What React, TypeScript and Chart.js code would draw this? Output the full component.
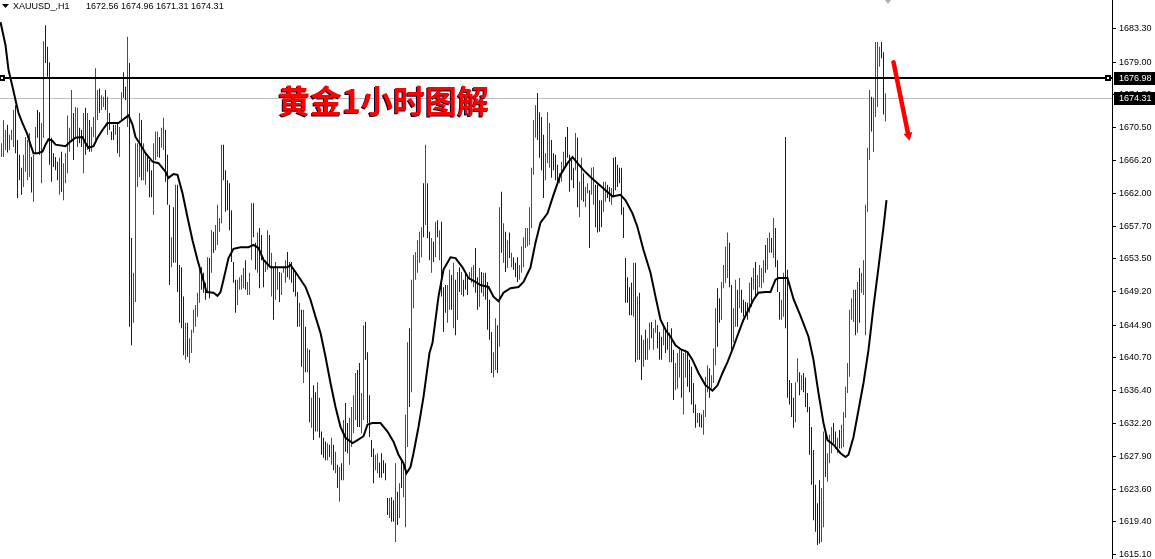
import React, { useEffect, useRef } from "react";
import { Chart, registerables } from "chart.js";

Chart.register(...registerables);

// ---------- data ----------
const symbolLabel = "XAUUSD_,H1";
const lastOHLC = [1672.56, 1674.96, 1671.31, 1674.31];
const titleText = "黄金1小时图解";

// price-axis tick labels
const yTicks = [
  1683.3, 1679.0, 1674.8, 1670.5, 1666.2, 1662.0, 1657.7, 1653.5, 1649.2,
  1644.9, 1640.7, 1636.4, 1632.2, 1627.9, 1623.6, 1619.4, 1615.1,
];
const yMin = 1614.58;
const yMax = 1687.06;
const xMin = -0.75;
const xMax = 555.25;

const levelPrice = 1676.98; // black horizontal line
const bidPrice = 1674.31; // grey bid line

const arrowFrom = { x: 446, y: 1679.0 };
const arrowTo = { x: 454, y: 1668.8 };

// bar highs
const barHigh = [
  // 0-73
  1668.5,1671.5,1670.2,1670.9,1669.6,1670.2,1672.8,1673.4,1668.9,1667.0,
  1665.3,1667.0,1669.3,1668.9,1669.8,1666.7,1667.0,1670.6,1672.8,1672.5,
  1671.1,1681.7,1683.8,1681.0,1679.0,1669.2,1667.2,1666.7,1666.1,1666.6,
  1667.4,1665.9,1667.2,1672.1,1670.5,1675.4,1672.4,1673.2,1673.1,1670.5,
  1670.2,1672.4,1673.1,1672.4,1671.5,1670.6,1671.9,1678.2,1675.4,1675.6,
  1674.7,1674.5,1675.4,1674.5,1672.4,1670.0,1670.9,1670.9,1671.1,1670.6,
  1675.1,1677.7,1675.8,1682.3,1678.9,1656.2,1651.7,1668.5,1668.5,1672.4,
  1671.5,1668.5,1667.2,1666.7,
  // 74-138
  1666.3,1665.0,1668.5,1670.0,1670.0,1669.3,1670.5,1671.8,1670.2,1667.0,
  1660.5,1656.3,1660.2,1663.1,1663.1,1652.7,1652.4,1648.6,1645.2,1645.2,
  1643.2,1644.3,1646.9,1647.5,1649.1,1652.3,1652.4,1651.7,1650.4,1653.7,
  1653.6,1657.2,1657.0,1657.9,1660.5,1658.8,1668.3,1668.3,1665.0,1663.7,
  1663.3,1659.8,1653.1,1650.8,1650.8,1651.1,1651.4,1652.3,1653.3,1650.5,
  1651.7,1660.7,1660.7,1655.6,1656.9,1657.5,1656.6,1653.7,1653.3,1657.2,
  1656.6,1654.3,1652.4,1653.1,1652.4,
  // 139-213
  1651.8,1651.7,1652.4,1653.3,1654.4,1653.1,1653.1,1652.1,1651.7,1649.2,
  1647.8,1646.9,1646.9,1644.7,1641.9,1641.7,1635.5,1637.1,1636.2,1637.5,
  1635.5,1631.1,1630.3,1629.8,1629.6,1629.4,1630.3,1629.4,1628.5,1626.8,
  1626.5,1627.0,1632.6,1634.8,1632.2,1632.9,1634.3,1635.8,1638.7,1639.1,
  1640.0,1636.1,1644.9,1645.3,1641.4,1635.8,1630.0,1628.9,1628.1,1628.3,
  1627.1,1628.3,1627.4,1627.0,1622.5,1622.5,1622.6,1622.2,1627.0,1623.3,
  1624.4,1627.4,1626.8,1633.3,1642.7,1644.5,1650.8,1654.0,1654.4,1655.9,
  1657.0,1657.6,1663.3,1668.3,1663.3,
  // 214-308
  1657.0,1656.2,1655.7,1658.3,1658.5,1657.2,1658.3,1649.8,1650.1,1650.1,
  1652.1,1651.4,1653.0,1650.8,1651.8,1652.4,1651.8,1650.8,1651.8,1651.1,
  1651.8,1652.4,1652.7,1654.9,1651.1,1652.3,1651.8,1651.7,1651.7,1650.5,
  1648.2,1644.0,1641.4,1645.8,1644.9,1660.2,1662.2,1658.1,1657.0,1655.9,
  1656.9,1654.3,1653.7,1653.0,1653.7,1652.7,1655.1,1656.3,1657.5,1657.5,
  1660.2,1665.3,1671.5,1673.4,1675.0,1672.5,1671.9,1669.6,1667.2,1672.5,
  1671.1,1668.9,1667.2,1667.0,1665.7,1664.6,1666.1,1667.4,1669.3,1670.6,
  1667.0,1666.3,1665.3,1669.8,1669.2,1663.5,1666.6,1664.6,1662.8,1663.3,
  1662.4,1665.3,1665.4,1663.1,1663.1,1661.1,1661.1,1663.5,1663.5,1663.1,
  1662.8,1662.7,1666.6,1666.7,1665.7,
  // 309-398
  1665.3,1665.3,1660.2,1653.6,1651.1,1649.8,1650.4,1653.0,1653.0,1648.6,
  1649.1,1643.6,1643.0,1644.3,1643.2,1645.2,1645.3,1644.5,1645.6,1644.9,
  1644.0,1643.4,1644.7,1644.3,1645.3,1643.9,1644.5,1641.7,1640.0,1641.3,
  1641.7,1641.7,1641.3,1641.7,1641.3,1640.4,1639.5,1637.4,1634.6,1633.5,
  1633.5,1633.3,1633.9,1638.2,1639.7,1639.3,1638.4,1641.9,1647.1,1649.7,
  1648.4,1650.5,1652.7,1655.1,1656.9,1655.6,1650.1,1647.1,1650.8,1649.5,
  1651.0,1649.5,1648.2,1647.9,1647.8,1650.4,1651.1,1652.3,1653.1,1651.4,
  1652.7,1652.3,1653.3,1655.3,1656.2,1656.9,1656.2,1658.8,1657.5,1653.3,
  1649.2,1648.2,1651.7,1669.3,1652.1,1637.8,1637.4,1635.5,1637.5,1640.6,
  // 399-442
  1638.8,1638.4,1638.7,1638.1,1636.1,1634.3,1631.7,1628.7,1624.2,1621.8,
  1624.8,1623.8,1631.1,1630.7,1628.3,1630.7,1631.7,1632.2,1631.1,1630.3,
  1631.3,1632.0,1633.6,1636.9,1640.0,1646.9,1648.4,1649.5,1649.5,1650.5,
  1652.3,1651.7,1653.3,1660.5,1667.9,1675.4,1674.5,1674.4,1681.6,1681.6,
  1681.0,1681.6,1680.3,1674.96,
];

// bar lows
const barLow = [
  // 0-73
  1666.7,1666.7,1667.6,1667.3,1667.6,1668.9,1668.0,1667.2,1661.4,1663.7,
  1661.8,1662.8,1664.8,1663.7,1664.1,1662.1,1660.9,1667.2,1669.2,1667.0,
  1663.3,1669.2,1678.9,1677.1,1665.7,1663.5,1665.4,1665.0,1663.7,1661.8,
  1662.2,1661.1,1663.3,1664.6,1667.4,1668.7,1666.3,1669.3,1668.0,1668.5,
  1668.0,1664.6,1667.0,1667.6,1667.4,1667.4,1669.3,1668.9,1671.5,1672.4,
  1672.8,1673.2,1672.8,1669.6,1670.2,1668.9,1668.9,1669.6,1667.2,1666.7,
  1671.5,1674.4,1674.1,1670.6,1644.7,1642.3,1645.2,1647.9,1662.8,1664.1,
  1663.7,1663.7,1663.1,1664.8,
  // 74-138
  1661.5,1661.5,1659.2,1666.3,1666.7,1666.6,1667.9,1667.6,1663.5,1660.5,
  1650.1,1652.4,1653.0,1653.0,1649.2,1645.2,1644.5,1641.0,1640.4,1640.8,
  1640.0,1641.3,1643.9,1644.7,1646.0,1647.8,1649.5,1649.1,1648.2,1649.1,
  1648.4,1651.7,1654.3,1654.6,1655.3,1657.0,1658.1,1663.7,1659.6,1659.8,
  1657.2,1653.1,1650.4,1646.5,1647.5,1649.5,1649.5,1649.7,1649.5,1648.8,
  1648.8,1653.3,1656.3,1652.1,1651.7,1649.7,1653.3,1649.8,1651.8,1652.1,
  1652.4,1648.6,1645.6,1648.2,1649.5,
  // 139-213
  1647.9,1648.8,1651.7,1650.4,1651.1,1650.8,1650.4,1649.2,1648.6,1644.7,
  1644.7,1639.5,1637.4,1638.8,1638.8,1632.3,1631.6,1630.0,1631.1,1631.1,
  1630.3,1628.1,1627.7,1627.4,1627.4,1627.8,1626.8,1626.1,1625.7,1623.8,
  1622.0,1624.8,1624.8,1628.5,1628.3,1626.8,1629.1,1630.9,1632.6,1631.7,
  1631.7,1630.9,1632.6,1640.4,1632.2,1630.4,1627.8,1624.4,1626.1,1625.7,
  1625.1,1625.1,1625.7,1624.8,1620.3,1619.9,1619.4,1619.4,1616.8,1619.0,
  1619.9,1623.8,1622.6,1618.7,1629.1,1634.3,1636.2,1647.1,1650.8,1651.7,
  1653.0,1653.7,1656.3,1657.9,1656.2,
  // 214-308
  1653.3,1651.7,1653.1,1653.7,1656.3,1653.3,1648.6,1644.0,1646.5,1645.2,
  1646.9,1646.9,1644.5,1643.6,1645.6,1649.2,1648.8,1648.6,1649.5,1648.8,
  1650.8,1650.4,1649.8,1649.1,1646.9,1647.3,1649.1,1648.6,1648.2,1644.3,
  1643.0,1638.7,1638.1,1639.1,1638.7,1642.1,1654.3,1653.0,1651.8,1652.3,
  1653.6,1652.4,1652.1,1651.1,1650.5,1650.8,1651.7,1652.4,1654.9,1655.1,
  1655.3,1657.5,1664.4,1669.2,1668.9,1666.6,1665.0,1661.4,1663.7,1665.9,
  1665.3,1664.0,1665.0,1663.7,1663.5,1663.3,1663.5,1664.8,1665.4,1666.6,
  1662.2,1663.7,1662.7,1665.0,1660.2,1658.9,1661.1,1660.9,1660.2,1662.0,
  1654.9,1661.8,1660.5,1657.6,1656.9,1657.0,1657.6,1659.6,1660.9,1661.4,
  1660.9,1660.5,1661.5,1662.4,1662.8,
  // 309-398
  1663.3,1659.2,1656.2,1647.8,1647.8,1646.2,1646.2,1646.0,1640.1,1640.4,
  1640.4,1637.8,1639.5,1640.4,1640.4,1641.7,1643.2,1641.7,1643.9,1641.9,
  1640.4,1640.4,1642.3,1641.3,1641.7,1640.1,1640.1,1635.2,1636.5,1636.7,
  1638.1,1635.5,1633.3,1638.1,1636.9,1636.2,1634.6,1633.5,1631.6,1632.2,
  1631.7,1631.6,1630.7,1633.0,1636.2,1635.5,1636.7,1637.4,1639.7,1642.1,
  1645.2,1645.6,1649.7,1650.4,1651.0,1649.8,1641.7,1642.7,1644.7,1644.7,
  1647.1,1646.5,1646.0,1646.2,1645.6,1646.5,1647.3,1649.5,1648.4,1649.1,
  1649.8,1649.7,1650.4,1651.7,1652.1,1654.3,1654.3,1653.6,1652.4,1649.2,
  1645.6,1645.6,1646.0,1644.5,1635.5,1634.6,1633.0,1631.6,1632.3,1637.5,
  // 399-442
  1635.8,1636.5,1636.2,1634.3,1633.6,1628.1,1624.2,1619.6,1618.1,1616.4,
  1616.6,1616.8,1618.7,1625.2,1624.6,1627.0,1628.3,1629.6,1628.9,1628.3,
  1628.9,1628.9,1629.1,1632.9,1636.1,1638.2,1645.6,1645.3,1643.6,1643.9,
  1645.2,1649.1,1648.8,1643.6,1659.6,1666.3,1670.0,1667.4,1671.9,1673.2,
  1678.4,1679.5,1672.2,1671.31,
];

// bar direction: R = up (red), B = down (blue)
const barDir = (
  "RRRBRRRBBB" + "BRRRRBRRBB" + "RRBBBBBBBR" + "BRRRRRBRRB" + "BRBRBRRRRB" + "RRBRBBBRBR" + "RBBRBBRRRR" + "BRRB" +
  "BBRRRBRRBB" + "BRBRBBBBRB" + "RRRRRRBBBR" + "BRBRRRRBBB" + "BBBBRRRRBR" + "RRBBRBBBRR" + "BRBRR" +
  "BRRRBRBBBB" + "RBRBRBRBBR" + "BBBBRBRBRB" + "RBRBBRRRRB" + "BRRBBBBBRR" + "BBBBBRBBRB" + "RBRRRBRRRR" + "RRBRB" +
  "BRBRBRBBBR" + "RBRBRBRBBB" + "RRRBBRBRBB" + "BBRRBRBRBR" + "BRBBBRRRRR" + "RRRRBBBBRR" + "RBBBBRRRBB" + "BBBRBRRBRR" + "BRRBBBBRRB" + "BRBBB" +
  "BBBBBBBRBR" + "BBRBRRBRRB" + "BBRBBRBBRR" + "RBRRBBBBBR" + "BBRRRBRRRB" + "BRRRRBBRRB" + "RBBBBRBRBR" + "RRRBRRBRBB" + "BRRBBBBBRR" +
  "BRBBBBBBBB" + "BRRBRRRBBR" + "BRRRRRRRBR" + "BRRRRRBRRR" + "RBBR"
).split("");

// moving-average line (bar index, price)
const maX = [
  -0.5,2,3.5,5.5,7,8.5,10.5,13,14.5,16,18,20.5,22,23.5,25.5,27,32,34.5,37,40.5,
  42,43.5,46,48,50.5,53,55.5,58.5,61,63.5,65.5,67,69.5,72,75.5,78.5,82,83.5,86,88,
  90.5,93,95.5,98,100.5,102.5,106,108,109.5,111,113.5,116,119.5,123.5,126,128.5,131,134.5,138.5,143,
  144.5,148,152,154.5,157,159.5,162,164.5,167,169.5,172,175.5,178,181,183,185.5,189.5,193,196,198.5,
  201,202.5,204.5,206,208.5,211,214,215.5,218.5,221,224.5,227,230.5,233.5,237,239.5,243.5,246,248.5,251,
  254.5,258.5,261,264.5,267,269.5,273,276,279.5,283,285.5,288,291,294.5,298,302,305.5,309.5,312,315.5,
  318,321,324.5,327,329.5,332,334.5,337,339.5,343,345.5,348.5,352,355.5,358,360.5,363,366,368.5,371,
  373.5,376,378.5,382,384.5,387,388.5,393,396,399.5,403.5,406,408.5,411,413,416,419.5,422,423.5,426,
  428.5,431,433.5,436,438.5,441,442.5,
];
const maY = [
  1684.2,1681.2,1678.0,1675.8,1674.1,1672.4,1671.1,1669.6,1668.3,1667.2,
  1667.2,1667.4,1668.3,1669.0,1668.8,1668.3,1668.1,1668.7,1669.2,1669.3,
  1668.5,1667.9,1668.1,1669.2,1670.2,1671.1,1671.1,1671.1,1671.6,1672.1,
  1670.9,1669.3,1668.3,1667.2,1666.1,1665.9,1664.8,1664.0,1664.5,1664.4,
  1662.0,1658.9,1655.9,1653.35,1651.1,1649.2,1649.1,1648.7,1649.2,1650.8,
  1653.6,1654.8,1655.0,1655.0,1655.3,1654.9,1653.35,1652.4,1652.4,1652.4,
  1652.7,1651.4,1649.85,1648.2,1646.0,1643.9,1640.8,1637.4,1634.3,1631.7,
  1630.3,1629.6,1630.0,1630.5,1632.0,1632.2,1632.2,1631.1,1629.8,1628.1,
  1627.0,1625.7,1626.5,1628.3,1631.7,1635.6,1641.3,1642.6,1648.6,1652.1,
  1653.7,1653.6,1652.4,1651.0,1650.5,1650.1,1649.85,1648.6,1648.0,1649.1,
  1649.7,1649.85,1650.5,1652.4,1655.6,1658.2,1659.4,1661.8,1664.4,1665.9,
  1666.7,1665.9,1665.0,1664.1,1663.3,1662.4,1661.6,1661.8,1661.1,1659.4,
  1657.6,1654.65,1651.7,1648.6,1645.6,1644.3,1643.4,1642.3,1641.8,1641.4,
  1640.4,1638.7,1637.1,1636.4,1637.1,1638.7,1640.1,1642.1,1643.9,1645.6,
  1646.9,1648.2,1649.1,1649.2,1649.2,1650.8,1651.0,1651.0,1648.3,1646.1,
  1643.4,1640.4,1636.1,1632.2,1630.0,1629.4,1628.3,1627.8,1628.1,1630.4,
  1633.9,1637.4,1641.7,1647.3,1652.4,1657.6,1661.1,
];

// ---------- styles ----------
const W = 1155;
const H = 559;
const AXIS_W = 43;
const UP = "#ff0000";
const DOWN = "#0000ff";
const SMALL_FONT = "'Liberation Sans', Arial, sans-serif";
const SMALL_SIZE = 9;

const overlayPlugin = {
  id: "mtOverlay",
  beforeDatasetsDraw(chart: any) {
    const { ctx, chartArea: a, scales } = chart;
    const yb = Math.round(scales.y.getPixelForValue(bidPrice)) + 0.5;
    ctx.save();
    ctx.strokeStyle = "#c0c0c0";
    ctx.lineWidth = 1;
    ctx.beginPath();
    ctx.moveTo(a.left, yb);
    ctx.lineTo(a.right, yb);
    ctx.stroke();
    ctx.restore();
  },
  afterDatasetsDraw(chart: any) {
    const { ctx, chartArea: a, scales } = chart;
    const xs = scales.x;
    const ys = scales.y;
    ctx.save();
    // level line
    const yl = Math.round(ys.getPixelForValue(levelPrice));
    ctx.fillStyle = "#000";
    ctx.fillRect(a.left, yl - 1, a.right - a.left, 2);
    const sq = (cx: number) => {
      ctx.fillStyle = "#000";
      ctx.fillRect(cx - 3, yl - 3, 6, 6);
      ctx.fillStyle = "#fff";
      ctx.fillRect(cx - 1, yl - 1, 2, 2);
    };
    sq(a.left + 2);
    sq(a.right - 4);

    // red arrow
    const x1 = xs.getPixelForValue(arrowFrom.x);
    const y1 = ys.getPixelForValue(arrowFrom.y);
    const x2 = xs.getPixelForValue(arrowTo.x);
    const y2 = ys.getPixelForValue(arrowTo.y);
    const dx = x2 - x1, dy = y2 - y1;
    const len = Math.hypot(dx, dy);
    const ux = dx / len, uy = dy / len;
    const px = -uy, py = ux;
    const hl = 8, hw = 4.5;
    const bx = x2 - ux * hl, by = y2 - uy * hl;
    ctx.strokeStyle = UP;
    ctx.lineWidth = 4.5;
    ctx.lineCap = "round";
    ctx.beginPath();
    ctx.moveTo(x1, y1);
    ctx.lineTo(bx, by);
    ctx.stroke();
    ctx.fillStyle = UP;
    ctx.beginPath();
    ctx.moveTo(x2, y2);
    ctx.lineTo(bx + px * hw, by + py * hw);
    ctx.lineTo(bx - px * hw, by - py * hw);
    ctx.closePath();
    ctx.fill();

    // small grey marker at top
    const gx = Math.round(xs.getPixelForValue(443));
    ctx.fillStyle = "#b0b0b0";
    ctx.beginPath();
    ctx.moveTo(gx - 3, 0);
    ctx.lineTo(gx + 3, 0);
    ctx.lineTo(gx, 4);
    ctx.closePath();
    ctx.fill();

    // chinese caption
    ctx.font = 'bold 32px "Noto Sans CJK SC", sans-serif';
    ctx.textBaseline = "middle";
    ctx.textAlign = "left";
    ctx.fillStyle = "#000030";
    ctx.fillText(titleText, 277, 102);
    ctx.fillStyle = UP;
    ctx.fillText(titleText, 278, 101);
    ctx.restore();
  },
  afterDraw(chart: any) {
    const { ctx, chartArea: a, scales } = chart;
    const ys = scales.y;
    ctx.save();
    // price boxes on the axis
    ctx.font = `${SMALL_SIZE}px ${SMALL_FONT}`;
    ctx.textBaseline = "middle";
    ctx.textAlign = "left";
    [levelPrice, bidPrice].forEach((p) => {
      const yp = Math.round(ys.getPixelForValue(p));
      ctx.fillStyle = "#000";
      ctx.fillRect(a.right + 2, yp - 6, W - a.right - 2, 13);
      ctx.fillStyle = "#fff";
      ctx.fillText(p.toFixed(2), a.right + 7, yp + 1);
    });
    // header
    ctx.fillStyle = "#000";
    ctx.beginPath();
    ctx.moveTo(2, 4);
    ctx.lineTo(9, 4);
    ctx.lineTo(5.5, 8);
    ctx.closePath();
    ctx.fill();
    ctx.textBaseline = "top";
    ctx.fillText(symbolLabel, 13, 2);
    ctx.fillText(lastOHLC.map((v) => v.toFixed(2)).join(" "), 86, 2);
    ctx.restore();
  },
};

export default function App() {
  const ref = useRef<HTMLCanvasElement>(null);
  useEffect(() => {
    const canvas = ref.current;
    if (!canvas) return;
    const n = Math.min(barHigh.length, barLow.length, barDir.length);
    const upBars: any[] = [];
    const downBars: any[] = [];
    for (let i = 0; i < n; i++) {
      const pt = { x: i, y: [barLow[i], barHigh[i]] };
      if (barDir[i] === "R") upBars.push(pt);
      else downBars.push(pt);
    }
    const m = Math.min(maX.length, maY.length);
    const ma: any[] = [];
    for (let i = 0; i < m; i++) ma.push({ x: maX[i], y: maY[i] });

    const barStyle = {
      type: "bar",
      borderWidth: 0,
      barThickness: 1,
      grouped: false,
      inflateAmount: 0,
      order: 1,
    };

    const chart = new Chart(canvas, {
      type: "bar",
      data: {
        datasets: [
          {
            type: "line",
            data: ma,
            borderColor: "#000000",
            backgroundColor: "#000000",
            borderWidth: 2,
            pointRadius: 0,
            tension: 0,
            fill: false,
            order: 0,
          } as any,
          { ...barStyle, data: upBars, backgroundColor: UP, borderColor: UP } as any,
          { ...barStyle, data: downBars, backgroundColor: DOWN, borderColor: DOWN } as any,
        ],
      },
      options: {
        responsive: false,
        animation: false,
        devicePixelRatio: 1,
        events: [],
        layout: { padding: 0 },
        plugins: {
          legend: { display: false },
          tooltip: { enabled: false },
          title: { display: false },
          colors: { enabled: false },
        },
        scales: {
          x: {
            type: "linear",
            min: xMin,
            max: xMax,
            offset: false,
            display: false,
          },
          y: {
            position: "right",
            min: yMin,
            max: yMax,
            afterBuildTicks: (s: any) => {
              s.ticks = yTicks.map((v) => ({ value: v }));
            },
            afterFit: (s: any) => {
              s.width = AXIS_W;
              s.paddingTop = 0;
              s.paddingBottom = 0;
            },
            ticks: {
              autoSkip: false,
              color: "#000",
              padding: 3,
              font: { family: SMALL_FONT, size: SMALL_SIZE },
              callback: (v: any) => Number(v).toFixed(2),
            },
            grid: {
              drawOnChartArea: false,
              drawTicks: true,
              tickLength: 4,
              color: "#000",
            },
            border: { display: true, color: "#000", width: 1 },
          } as any,
        },
      },
      plugins: [overlayPlugin],
    } as any);
    return () => chart.destroy();
  }, []);

  return (
    <div style={{ position: "absolute", left: 0, top: 0, width: W, height: H, background: "#fff" }}>
      <canvas ref={ref} width={W} height={H} style={{ display: "block" }} />
    </div>
  );
}
